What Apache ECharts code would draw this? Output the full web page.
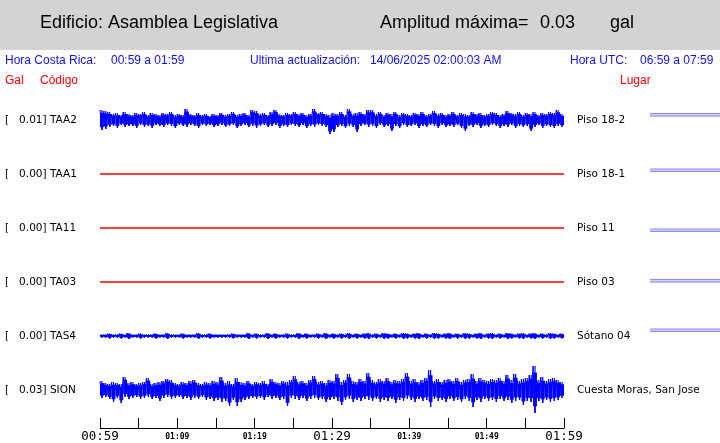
<!DOCTYPE html>
<html><head><meta charset="utf-8">
<script src="https://cdn.jsdelivr.net/npm/echarts@6/dist/echarts.min.js"></script>
<style>html,body{margin:0;padding:0;background:#fff}#c{width:720px;height:443px}</style>
</head><body><div id="c"></div>
<script>
// ---- data ----
const codes = ['TAA2','TAA1','TA11','TA03','TAS4','SION'];
const places = ['Piso 18-2','Piso 18-1','Piso 11','Piso 03','Sótano 04','Cuesta Moras, San Jose'];
const maxAmp = ['0.01','0.00','0.00','0.00','0.00','0.03'];
const timeLabels = ['00:59','01:09','01:19','01:29','01:39','01:49','01:59'];
const majorLabels = ['00:59','01:29','01:59'];
const minutesSpan = 60;

// envelope samples (upper / lower magnitude), one per half minute
const TAA2_up = [10,9,8,6,7,5,8,6,5,7, 6,8,5,7,6,5,7,6,8,5, 6,5,11,6,5,7,5,6,4,6, 5,7,5,6,8,5,6,7,5,10,
  9,6,7,5,8,10,6,5,7,6, 8,6,7,5,6,11,7,8,6,5, 7,6,8,5,11,6,7,8,6,10, 10,6,8,5,7,6,8,5,7,6,
  5,7,6,8,5,6,9,6,7,5, 6,8,5,7,6,5,8,6,7,5, 6,8,7,5,6,9,7,6,8,5, 7,6,8,5,7,6,8,7,10,6];
const TAA2_low = [10,9,7,6,8,5,7,6,6,8, 5,7,6,8,5,6,7,5,6,8, 5,6,7,5,6,8,5,6,5,7, 6,5,7,6,5,8,6,5,7,6,
  8,6,5,7,6,5,8,6,7,5, 6,7,5,8,6,7,5,6,7,14, 12,7,6,8,6,7,12,6,5,7, 6,8,5,7,6,11,6,8,5,7,
  6,5,8,6,7,5,6,8,5,7, 6,7,5,8,11,6,7,5,8,6, 7,5,6,8,6,7,5,8,6,7, 6,11,7,5,8,6,7,8,6,7];
const TAS4_amp = [1.5,1.5,2.5,1.5,1.5,2.5,1.5,3,1.5,1.5, 2.5,1.5,1.5,1.5,2.5,1.5,1.5,3,1.5,1.5,
  1.5,2.5,1.5,1.5,1.5,3,1.5,1.5,2.5,1.5, 1.5,1.5,1.5,1.5,2.5,1.5,1.5,1.5,3,1.5,
  2.5,1.5,1.5,3,1.5,2.5,1.5,1.5,2.5,1.5, 1.5,3,1.5,2.5,1.5,1.5,2.5,1.5,3,1.5,
  2.5,1.5,2.5,1.5,3,1.5,2.5,1.5,2.5,3, 1.5,2.5,1.5,3,2.5,1.5,2.5,1.5,3,2.5,
  1.5,2.5,3,1.5,2.5,1.5,3,2.5,1.5,2.5, 3,1.5,2.5,1.5,3,2.5,1.5,2.5,3,1.5,
  2.5,3,1.5,2.5,1.5,3,2.5,1.5,2.5,3, 1.5,2.5,3,1.5,2.5,1.5,3,2.5,1.5,2.5];
const SION_up = [9,7,6,8,7,6,13,7,8,6, 7,8,12,6,7,8,9,11,10,7, 6,8,7,9,10,7,6,8,7,9, 8,13,7,9,6,12,8,7,9,6,
  8,7,9,6,11,8,7,9,8,10, 14,8,9,7,10,14,8,9,7,10, 9,16,8,10,16,9,8,11,9,17, 10,8,11,9,12,8,10,9,11,17,
  9,11,8,10,12,20,9,11,8,10, 11,9,12,8,10,11,16,9,12,10, 9,11,10,12,9,15,10,16,9,11, 12,15,24,10,13,9,11,12,10,8];
const SION_low = [8,7,9,12,8,13,7,9,8,7, 9,8,7,9,8,11,8,7,9,8, 7,9,8,10,8,9,7,10,9,11, 10,12,11,16,10,16,12,10,9,8,
  9,8,10,7,9,8,10,9,16,8, 9,10,8,11,9,8,10,9,12,10, 9,11,15,10,9,12,10,11,9,10, 11,9,12,10,11,9,13,10,11,9,
  10,12,9,11,10,17,9,11,10,12, 9,11,10,12,9,11,17,10,12,9, 11,10,12,9,11,10,13,11,10,15, 11,12,23,11,13,10,12,11,10,8];

const traces = [
  {up: TAA2_up, low: TAA2_low},
  null, null, null,
  {up: TAS4_amp, low: TAS4_amp},
  {up: SION_up, low: SION_low}
];

// ---- build ----
// each half-minute bin: [start minute, +upper, -lower, bin length]
function bins(up, low) {
  const n = up.length, step = minutesSpan / n;
  return up.map((u, i) => [i * step, u, -low[i], step]);
}
function zigzag(up, low) {
  const n = up.length, step = minutesSpan / n, out = [];
  for (let i = 0; i < n; i++) {
    out.push([i * step, up[i]]);
    out.push([i * step + step / 2, -low[i]]);
  }
  return out;
}
function renderBin(params, api) {
  const t = api.value(0), s = api.value(3);
  const p0 = api.coord([t, api.value(1)]);
  const p1 = api.coord([t + s, api.value(2)]);
  const w = p1[0] - p0[0], h = p1[1] - p0[1];
  // solid core of the bin, with a narrow full-height stroke for the peak
  return {
    type: 'group',
    children: [
      {type: 'rect', shape: {x: p0[0], y: p0[1] + h * 0.14, width: w, height: h * 0.72},
        style: {fill: '#0000ff'}},
      {type: 'rect', shape: {x: p0[0] + w * 0.35, y: p0[1], width: Math.max(1, w * 0.3), height: h},
        style: {fill: '#0000ff'}}
    ]
  };
}

const centers = [120, 174, 228, 282, 336, 390];
const rowH = 54;
const L = 100, R = 156;
const grids = [], xAxes = [], yAxes = [], series = [];
centers.forEach((c, i) => {
  grids.push({left: L, right: R, top: c - rowH / 2, height: rowH});
  xAxes.push({type: 'value', gridIndex: i, min: 0, max: minutesSpan, show: false});
  yAxes.push({type: 'value', gridIndex: i, min: -27, max: 27, show: false});
  const tr = traces[i];
  if (tr) {
    series.push({
      type: 'custom', xAxisIndex: i, yAxisIndex: i, animation: false, silent: true,
      renderItem: renderBin, data: bins(tr.up, tr.low), encode: {x: 0, y: [1, 2]}
    });
    series.push({
      type: 'line', xAxisIndex: i, yAxisIndex: i, symbol: 'none', animation: false, silent: true,
      lineStyle: {color: '#0000ff', width: 1, join: 'bevel'},
      data: zigzag(tr.up, tr.low)
    });
  } else {
    series.push({
      type: 'line', xAxisIndex: i, yAxisIndex: i, symbol: 'none', animation: false, silent: true,
      lineStyle: {color: '#ff0000', width: 1.5},
      data: [[0, 0], [minutesSpan, 0]]
    });
  }
});
// time axis grid
grids.push({left: L, right: R, top: 419, height: 10});
xAxes.push({
  type: 'value', gridIndex: 6, min: 0, max: minutesSpan, interval: 5, position: 'bottom',
  axisLine: {show: true, lineStyle: {color: '#000', width: 1}},
  axisTick: {show: true, inside: true, length: 10, lineStyle: {color: '#000', width: 1}},
  splitLine: {show: false},
  axisLabel: {
    show: true, margin: 2, showMinLabel: true, showMaxLabel: true,
    formatter: v => {
      if (v % 10 !== 0) return '';
      const t = timeLabels[v / 10];
      return majorLabels.includes(t) ? '{b|' + t + '}' : '{s|' + t + '}';
    },
    rich: {
      b: {fontFamily: 'DejaVu Sans Mono', fontSize: 12.5, color: '#000'},
      s: {fontFamily: 'DejaVu Sans Mono', fontSize: 8, fontWeight: 'bold', color: '#000', padding: [3, 0, 0, 0]}
    }
  }
});
yAxes.push({type: 'value', gridIndex: 6, min: 0, max: 1, show: false});
series.push({type: 'line', xAxisIndex: 6, yAxisIndex: 6, data: [], symbol: 'none'});

// ---- texts / decorations ----
const g = [];
g.push({type: 'rect', shape: {x: 0, y: 0, width: 720, height: 50}, style: {fill: '#d3d3d3'}, silent: true});
const hdr = '18px "Liberation Sans", Arial, sans-serif';
const sm = '12px "Liberation Sans", Arial, sans-serif';
function txt(text, x, y, font, fill) {
  g.push({type: 'text', x: x, y: y, silent: true,
    style: {text: text, font: font, fill: fill, align: 'left', verticalAlign: 'middle'}});
}
txt('Edificio: Asamblea Legislativa', 40, 23, hdr, '#000');
txt('Amplitud máxima=', 380, 23, hdr, '#000');
txt('0.03', 540, 23, hdr, '#000');
txt('gal', 610, 23, hdr, '#000');
const blue = '#1010ff';
txt('Hora Costa Rica:', 5, 61, sm, blue);
txt('00:59 a 01:59', 111, 61, sm, blue);
txt('Ultima actualización:', 250, 61, sm, blue);
txt('14/06/2025 02:00:03 AM', 370, 61, sm, blue);
txt('Hora UTC:', 570, 61, sm, blue);
txt('06:59 a 07:59', 640, 61, sm, blue);
txt('Gal', 5, 81, sm, '#ff0000');
txt('Código', 40, 81, sm, '#ff0000');
txt('Lugar', 620, 81, sm, '#ff0000');
const lab = '10.5px "DejaVu Sans", sans-serif';
centers.forEach((c, i) => {
  txt('[   ' + maxAmp[i] + '] ' + codes[i], 5, c + 0.5, lab, '#000');
  txt(places[i], 577, c + 0.5, lab, '#000');
});
const dbl = [114.5, 170, 230, 280.5, 330];
dbl.forEach(y => {
  g.push({type: 'rect', silent: true, shape: {x: 650, y: y - 1, width: 70, height: 3}, style: {fill: '#d0d0ff'}});
  g.push({type: 'line', silent: true, shape: {x1: 650, y1: y - 1, x2: 720, y2: y - 1}, style: {stroke: '#8c8cf4', lineWidth: 1}});
  g.push({type: 'line', silent: true, shape: {x1: 650, y1: y + 1.5, x2: 720, y2: y + 1.5}, style: {stroke: '#8c8cf4', lineWidth: 1}});
});

const chart = echarts.init(document.getElementById('c'), null, {renderer: 'canvas'});
chart.setOption({
  animation: false,
  backgroundColor: '#fff',
  grid: grids, xAxis: xAxes, yAxis: yAxes, series: series,
  graphic: g
});
</script>
</body></html>
